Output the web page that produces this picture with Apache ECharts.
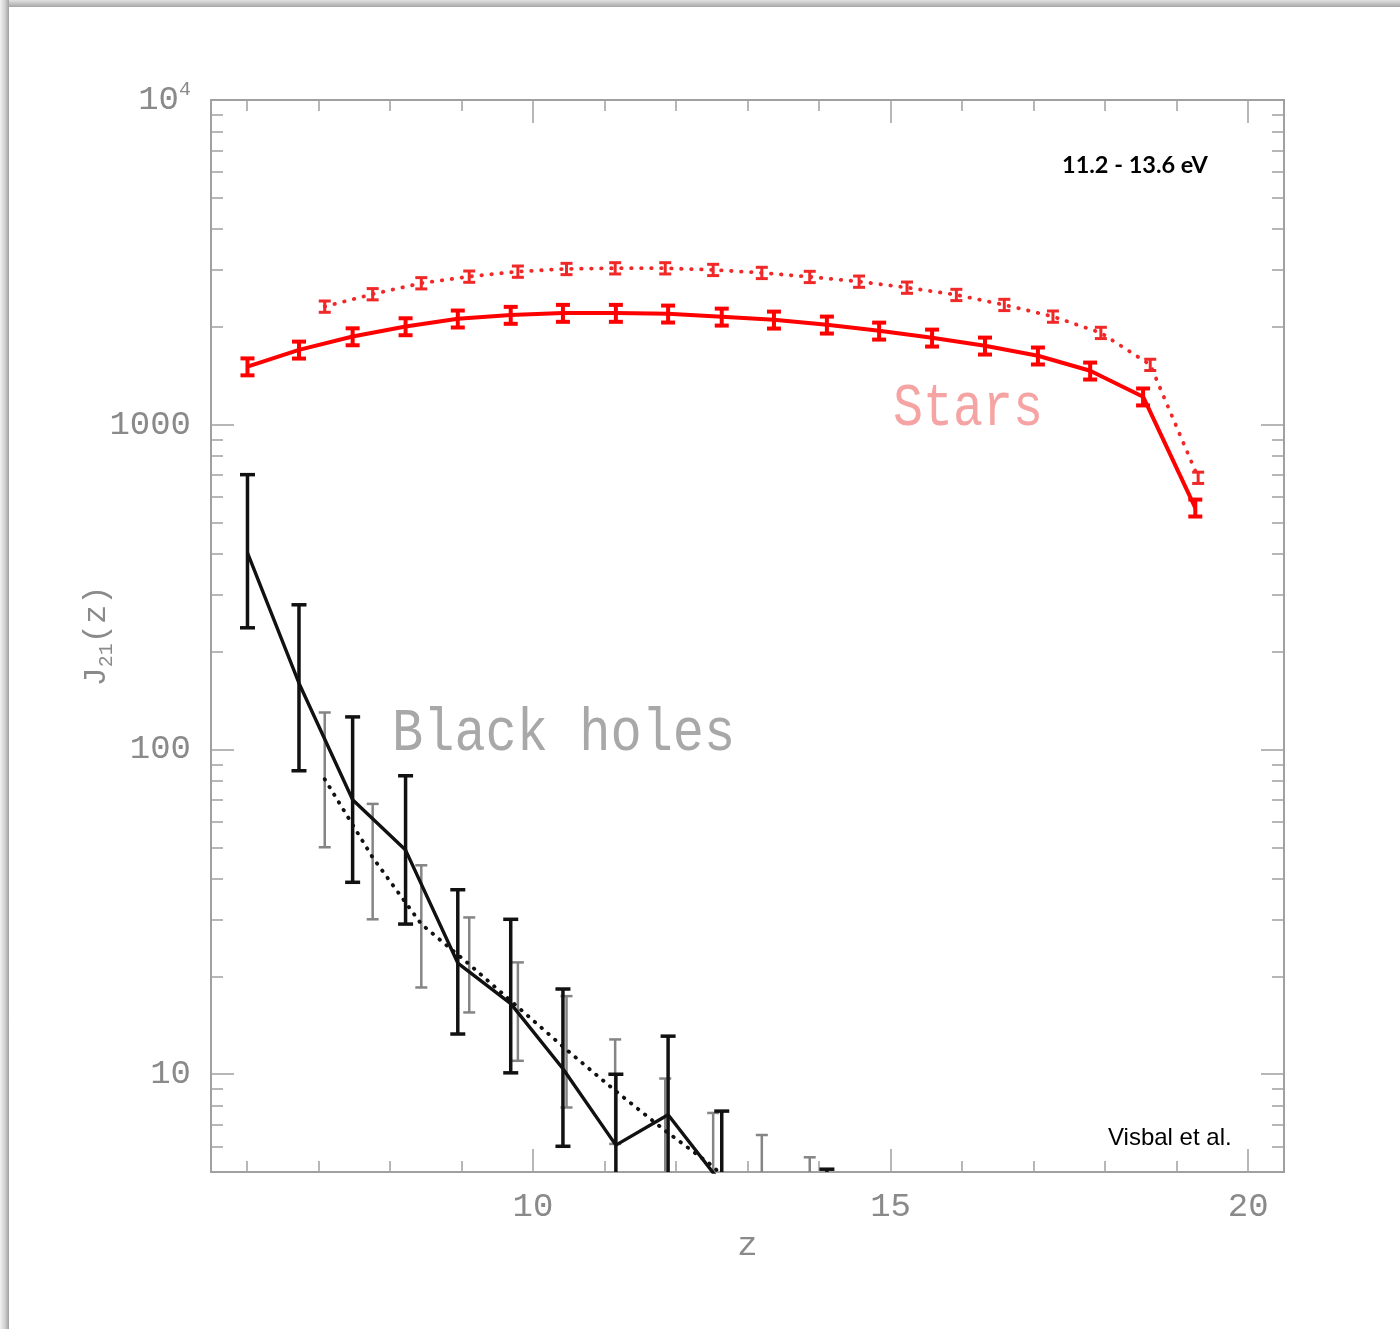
<!DOCTYPE html>
<html>
<head>
<meta charset="utf-8">
<script src="https://cdn.jsdelivr.net/npm/echarts@6/dist/echarts.min.js"></script>
<style>
  html, body { margin: 0; padding: 0; background: #fff; }
  #wrap { position: relative; width: 1400px; height: 1329px; overflow: hidden; }
  #chart { position: absolute; left: 0; top: 0; width: 1400px; height: 1329px; }
  .edge-top { position: absolute; left: 0; top: 0; width: 1400px; height: 7px;
              background: linear-gradient(to bottom, #e2e2e2, #a6a6a6); }
  .edge-left { position: absolute; left: 0; top: 0; width: 9px; height: 1329px;
               background: linear-gradient(to right, #f2f2f2, #d0d0d0 55%, #a0a0a0); }
</style>
</head>
<body>
<div id="wrap">
  <div id="chart"></div>
  <div class="edge-top"></div>
  <div class="edge-left"></div>
</div>
<script>
// Redshift sampling of the two simulation outputs
const starZ    = [6.01, 6.73, 7.48, 8.22, 8.95, 9.69, 10.42, 11.16, 11.89, 12.64,
                  13.37, 14.11, 14.84, 15.58, 16.32, 17.06, 17.79, 18.53, 19.26];
const starAltZ = [7.09, 7.76, 8.44, 9.11, 9.79, 10.47, 11.15, 11.85, 12.52, 13.20,
                  13.87, 14.56, 15.23, 15.92, 16.59, 17.27, 17.94, 18.63, 19.30];

// Stellar Lyman-Werner background J21 (solid and dotted runs)
const starJ    = [1510, 1701, 1869, 2007, 2120, 2176, 2207, 2207, 2196, 2149,
                  2104, 2031, 1946, 1852, 1750, 1631, 1466, 1220, 555];
const starErr  = [0.06, 0.06, 0.06, 0.06, 0.06, 0.06, 0.06, 0.06, 0.06, 0.06,
                  0.06, 0.06, 0.06, 0.06, 0.06, 0.06, 0.06, 0.06, 0.06];
const starAltJ = [2312, 2525, 2729, 2860, 2963, 3020, 3034, 3034, 2999, 2936,
                  2854, 2760, 2645, 2512, 2340, 2154, 1919, 1530, 687];
const starAltErr = [0.04, 0.04, 0.04, 0.04, 0.04, 0.04, 0.04, 0.04, 0.04, 0.04,
                    0.04, 0.04, 0.04, 0.04, 0.04, 0.04, 0.04, 0.04, 0.04];

// Black-hole contribution (solid run) with lower / upper bounds
const bhZ    = [6.01, 6.73, 7.48, 8.22, 8.95, 9.69, 10.42, 11.16, 11.89, 12.64, 13.37, 14.11];
const bhJ    = [403, 160, 70, 49, 22, 16.5, 10.4, 6.05, 7.5, 4.6, 2.4, 2.8];
const bhLo   = [237, 86, 39, 29, 13.3, 10.1, 6.0, 3.6, 4.3, 2.7, 1.3, 1.5];
const bhHi   = [702, 279, 126, 83, 37, 30, 18.3, 10.0, 13.1, 7.7, 4.2, 5.1];

// Black-hole contribution (dotted run)
const bhAltZ  = [7.09, 7.76, 8.44, 9.11, 9.79, 10.47, 11.15, 11.85, 12.52, 13.20, 13.87];
const bhAltJ  = [81, 46.5, 29, 21.8, 16.1, 11.9, 8.9, 6.7, 5.2, 3.6, 3.0];
const bhAltLo = [50, 30, 18.5, 15.5, 11.0, 7.9, 6.1, 4.7, 3.5, 2.0, 1.6];
const bhAltHi = [130, 68, 44, 30.4, 22.1, 17.4, 12.8, 9.7, 7.6, 6.5, 5.55];

// Axis ticks
const xMajor = [10, 15, 20];
const xMinor = [6, 7, 8, 9, 11, 12, 13, 14, 16, 17, 18, 19];
const yMajor = [10, 100, 1000, 10000];
const yMinor = [6, 7, 8, 9, 20, 30, 40, 50, 60, 70, 80, 90,
                200, 300, 400, 500, 600, 700, 800, 900,
                2000, 3000, 4000, 5000, 6000, 7000, 8000, 9000];

const MONO = '"Liberation Mono", "DejaVu Sans Mono", monospace';
const AXIS_GRAY = '#a0a0a0';
const LABEL_GRAY = '#8a8a8a';

function pairs(xs, ys) { return xs.map((x, i) => [x, ys[i]]); }

function errorBars(name, xs, lo, hi, color, width, cap, z) {
  return {
    type: 'custom', name: name, clip: true, z: z, silent: true,
    data: xs.map((x, i) => [x, lo[i], hi[i]]),
    encode: { x: 0, y: [1, 2] },
    renderItem: function (params, api) {
      const top = api.coord([api.value(0), api.value(2)]);
      const bot = api.coord([api.value(0), api.value(1)]);
      const h = cap / 2;
      const st = { stroke: color, lineWidth: width };
      return {
        type: 'group',
        children: [
          { type: 'line', shape: { x1: top[0], y1: top[1], x2: bot[0], y2: bot[1] }, style: st },
          { type: 'line', shape: { x1: top[0] - h, y1: top[1], x2: top[0] + h, y2: top[1] }, style: st },
          { type: 'line', shape: { x1: bot[0] - h, y1: bot[1], x2: bot[0] + h, y2: bot[1] }, style: st }
        ]
      };
    }
  };
}

function xAxisDef(position, values, length, withLabels) {
  return {
    type: 'value', min: 5.5, max: 20.5, position: position,
    axisLine: { show: true, onZero: false, lineStyle: { color: AXIS_GRAY, width: 2 } },
    axisTick: { show: true, inside: true, length: length, customValues: values,
                lineStyle: { color: AXIS_GRAY, width: 1.5 } },
    axisLabel: withLabels
      ? { show: true, customValues: xMajor, margin: 18, color: LABEL_GRAY,
          fontFamily: MONO, fontSize: 34 }
      : { show: false },
    splitLine: { show: false },
    name: withLabels ? 'z' : '',
    nameLocation: 'middle', nameGap: 50,
    nameTextStyle: { color: LABEL_GRAY, fontFamily: MONO, fontSize: 34 }
  };
}

function yAxisDef(position, values, length, withLabels) {
  return {
    type: 'log', logBase: 10, min: 5, max: 10000, position: position,
    axisLine: { show: true, onZero: false, lineStyle: { color: AXIS_GRAY, width: 2 } },
    axisTick: { show: true, inside: true, length: length, customValues: values,
                lineStyle: { color: AXIS_GRAY, width: 1.5 } },
    axisLabel: withLabels
      ? {
          show: true, customValues: yMajor, margin: 20, color: LABEL_GRAY,
          fontFamily: MONO, fontSize: 34,
          formatter: function (v) {
            return Math.round(v) === 10000 ? '{b|10}{s|4}' : '{b|' + Math.round(v) + '}';
          },
          rich: {
            b: { fontFamily: MONO, fontSize: 34, color: LABEL_GRAY, lineHeight: 40 },
            s: { fontFamily: MONO, fontSize: 20, color: LABEL_GRAY, verticalAlign: 'top', lineHeight: 20 }
          }
        }
      : { show: false },
    splitLine: { show: false },
    minorTick: { show: false },
    name: withLabels ? '{j|J}{sub|21}{j|(z)}' : '',
    nameLocation: 'middle', nameGap: 94, nameRotate: 90, nameMoveOverlap: false,
    nameTextStyle: {
      color: LABEL_GRAY,
      rich: {
        j: { fontFamily: MONO, fontSize: 32, color: LABEL_GRAY, lineHeight: 40 },
        sub: { fontFamily: MONO, fontSize: 20, color: LABEL_GRAY, verticalAlign: 'bottom', lineHeight: 30 }
      }
    }
  };
}

const chart = echarts.init(document.getElementById('chart'), null, { renderer: 'canvas' });

chart.setOption({
  animation: false,
  backgroundColor: '#ffffff',
  grid: { left: 211, right: 116, top: 100, bottom: 157, containLabel: false },
  xAxis: [
    xAxisDef('bottom', xMajor, 23, true),
    xAxisDef('bottom', xMinor, 11, false),
    xAxisDef('top', xMajor, 23, false),
    xAxisDef('top', xMinor, 11, false)
  ],
  yAxis: [
    yAxisDef('left', yMajor, 23, true),
    yAxisDef('left', yMinor, 12, false),
    yAxisDef('right', yMajor, 23, false),
    yAxisDef('right', yMinor, 12, false)
  ],
  series: [
    // black holes, dotted run
    errorBars('bh-alt-err', bhAltZ, bhAltLo, bhAltHi, '#858585', 2.5, 12, 2),
    {
      type: 'line', name: 'bh-alt', data: pairs(bhAltZ, bhAltJ), symbol: 'none', clip: true, z: 3,
      lineStyle: { color: '#111', width: 3.8, type: [0.5, 8.5], cap: 'round' }
    },
    // black holes, solid run
    errorBars('bh-err', bhZ, bhLo, bhHi, '#111', 3.5, 15, 4),
    {
      type: 'line', name: 'bh', data: pairs(bhZ, bhJ), symbol: 'none', clip: true, z: 5,
      lineStyle: { color: '#111', width: 3.4 }
    },
    // stars, dotted run
    errorBars('star-alt-err', starAltZ,
              starAltJ.map((v, i) => v * (1 - starAltErr[i])),
              starAltJ.map((v, i) => v * (1 + starAltErr[i])), '#f02828', 3, 12, 6),
    {
      type: 'line', name: 'star-alt', data: pairs(starAltZ, starAltJ), symbol: 'none', clip: true, z: 6,
      lineStyle: { color: '#f02828', width: 3.8, type: [0.5, 9.5], cap: 'round' }
    },
    // stars, solid run
    errorBars('star-err', starZ,
              starJ.map((v, i) => v * (1 - starErr[i])),
              starJ.map((v, i) => v * (1 + starErr[i])), '#ff0000', 4, 14, 7),
    {
      type: 'line', name: 'star', data: pairs(starZ, starJ), symbol: 'none', clip: true, z: 7,
      lineStyle: { color: '#ff0000', width: 4 }
    }
  ],
  graphic: [
    {
      type: 'group', x: 893, y: 409, scaleY: 1.22,
      children: [{
        type: 'text',
        style: { text: 'Stars', x: 0, y: 0, verticalAlign: 'middle', align: 'left',
                 font: '50px ' + MONO, fill: '#f5a3a3' }
      }]
    },
    {
      type: 'group', x: 392, y: 734, scaleY: 1.18,
      children: [{
        type: 'text',
        style: { text: 'Black holes', x: 0, y: 0, verticalAlign: 'middle', align: 'left',
                 font: '52px ' + MONO, fill: '#a8a8a8' }
      }]
    },
    {
      type: 'text', x: 1062, y: 165,
      style: { text: '11.2 - 13.6 eV', verticalAlign: 'middle', align: 'left',
               font: 'bold 23.5px Lato, "Open Sans", sans-serif', fill: '#000' }
    },
    {
      type: 'text', x: 1108, y: 1138,
      style: { text: 'Visbal et al.', verticalAlign: 'middle', align: 'left',
               font: '24px "Liberation Sans", Arial, sans-serif', fill: '#000' }
    }
  ]
});
</script>
</body>
</html>
